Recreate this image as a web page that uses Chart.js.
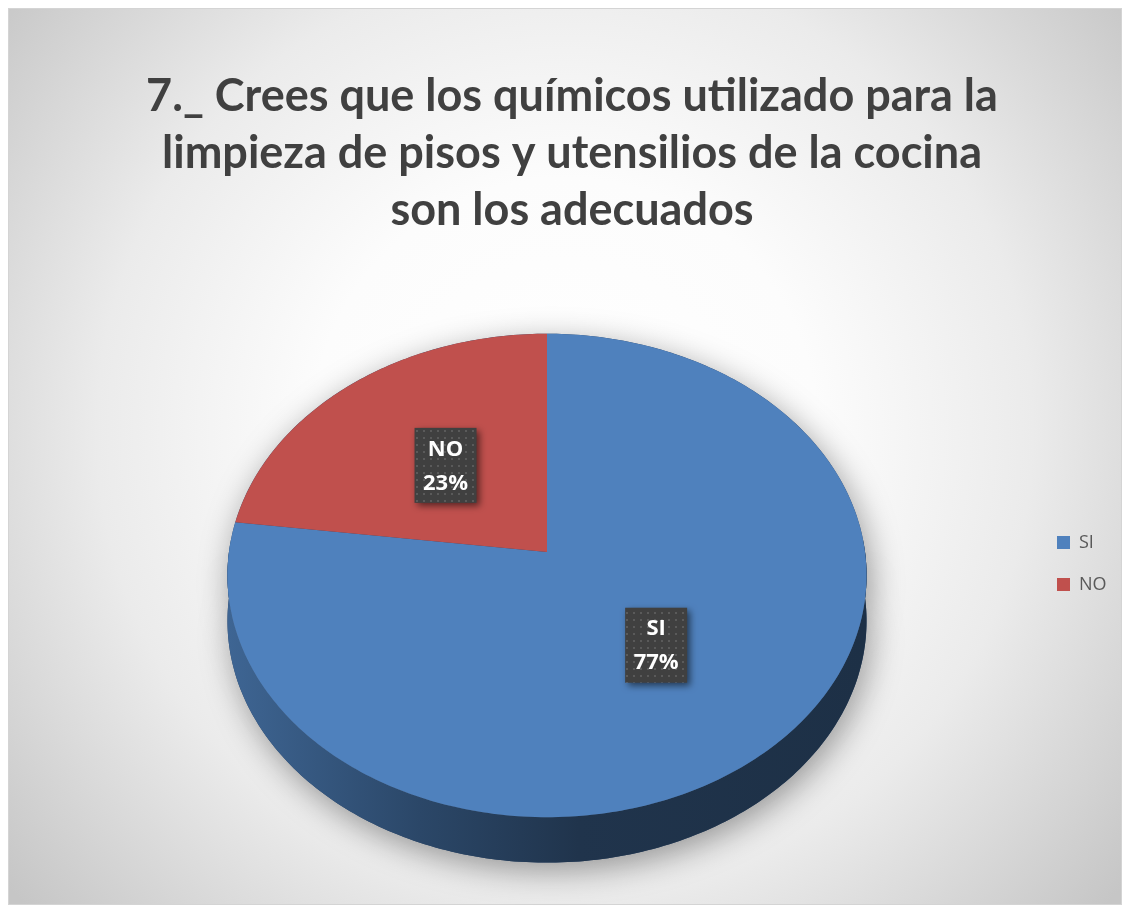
<!DOCTYPE html>
<html>
<head>
<meta charset="utf-8">
<script src="https://cdn.jsdelivr.net/npm/chart.js@4"></script>
<style>
  html, body { margin: 0; padding: 0; background: #fff; }
  #wrap { width: 1124px; height: 909px; }
</style>
</head>
<body>
<div id="wrap"><canvas id="pieChart" width="1124" height="909"></canvas></div>
<script>
// chart data
const categories = ['SI', 'NO'];
const values = [77, 23];
const sliceColors = ['#4F81BD', '#C0504D'];
const titleLines = [
    '7._ Crees que los químicos utilizado para la',
    'limpieza de pisos y utensilios de la cocina',
    'son los adecuados'
];

// darken / lighten a hex colour
function shade(hex, f) {
    const n = parseInt(hex.slice(1), 16);
    const r = Math.round(((n >> 16) & 255) * f);
    const g = Math.round(((n >> 8) & 255) * f);
    const b = Math.round((n & 255) * f);
    return `rgb(${Math.min(255, r)},${Math.min(255, g)},${Math.min(255, b)})`;
}

// tilted-disc projection of a point at angle a, fraction f of the radius
function project(geo, a, f) {
    const u = Math.cos(a) * f, v = Math.sin(a) * f;
    const d = 1 - geo.k * v;
    return [geo.cx + geo.rx * u / d, geo.cy + geo.ry * v / d];
}

function tracePath(ctx, geo, a0, a1, dy) {
    const steps = Math.max(8, Math.ceil(Math.abs(a1 - a0) * 60));
    for (let i = 0; i <= steps; i++) {
        const a = a0 + (a1 - a0) * i / steps;
        const p = project(geo, a, 1);
        ctx.lineTo(p[0], p[1] + dy);
    }
}

// background with soft radial shading
const backgroundPlugin = {
    id: 'officeBackground',
    beforeDraw(chart) {
        const ctx = chart.ctx;
        ctx.save();
        ctx.fillStyle = '#ffffff';
        ctx.fillRect(0, 0, chart.width, chart.height);
        const grad = ctx.createRadialGradient(565, 430, 0, 565, 430, 720);
        grad.addColorStop(0, '#ffffff');
        grad.addColorStop(0.35, '#fcfcfc');
        grad.addColorStop(0.65, '#ebebeb');
        grad.addColorStop(1, '#c6c6c6');
        ctx.fillStyle = grad;
        ctx.fillRect(8, 8, 1114, 897);
        ctx.strokeStyle = '#d4d4d4';
        ctx.lineWidth = 1;
        ctx.strokeRect(8.5, 8.5, 1113, 896);
        ctx.restore();
    }
};

// legend keeps a narrow layout box, but its clip area is widened so text isn't cut
const legendClipPlugin = {
    id: 'legendClip',
    afterLayout(chart) {
        const lg = chart.legend;
        if (!lg) return;
        lg.width = 90;
        lg.right = lg.left + 90;
    }
};

// draws the pie as a tilted 3D disc, using the arc angles computed by Chart.js
const pie3dPlugin = {
    id: 'pie3d',
    beforeDatasetsDraw(chart) {
        const ctx = chart.ctx;
        const meta = chart.getDatasetMeta(0);
        const first = meta.data[0];
        const R = first.outerRadius;
        const geo = { cx: first.x, cy: first.y, rx: R * 1.036, ry: R * 0.78, k: 0.097 };
        const depth = R * 0.148;

        ctx.save();
        // soft shadow beneath the disc
        ctx.save();
        ctx.shadowColor = 'rgba(0,0,0,0.38)';
        ctx.shadowBlur = 32;
        ctx.shadowOffsetX = 4;
        ctx.shadowOffsetY = 8;
        ctx.beginPath();
        tracePath(ctx, geo, -Math.PI / 2, Math.PI * 1.5, 0);
        ctx.fillStyle = '#2a4466';
        ctx.fill();
        ctx.beginPath();
        tracePath(ctx, geo, 0, Math.PI, 0);
        tracePath(ctx, geo, Math.PI, 0, depth);
        ctx.fill();
        ctx.restore();

        // side walls (front half only)
        meta.data.forEach((arc, i) => {
            const a0 = Math.max(arc.startAngle, -0.05);
            const a1 = Math.min(arc.endAngle, Math.PI + 0.05);
            if (a1 <= a0) return;
            const base = sliceColors[i];
            const grad = ctx.createLinearGradient(geo.cx - geo.rx, 0, geo.cx + geo.rx, 0);
            grad.addColorStop(0, shade(base, 0.78));
            grad.addColorStop(0.3, shade(base, 0.55));
            grad.addColorStop(0.55, shade(base, 0.4));
            grad.addColorStop(1, shade(base, 0.37));
            ctx.beginPath();
            tracePath(ctx, geo, a0, a1, 0);
            tracePath(ctx, geo, a1, a0, depth);
            ctx.closePath();
            ctx.fillStyle = grad;
            ctx.fill();
        });

        // top faces
        meta.data.forEach((arc, i) => {
            ctx.beginPath();
            ctx.moveTo(geo.cx, geo.cy);
            tracePath(ctx, geo, arc.startAngle, arc.endAngle, 0);
            ctx.closePath();
            ctx.fillStyle = sliceColors[i];
            ctx.fill();
        });

        // data labels
        const dots = document.createElement('canvas');
        dots.width = 7; dots.height = 7;
        const dctx = dots.getContext('2d');
        dctx.fillStyle = '#404040';
        dctx.fillRect(0, 0, 7, 7);
        dctx.fillStyle = '#5a5a5a';
        dctx.fillRect(3, 3, 2, 2);
        const pattern = ctx.createPattern(dots, 'repeat');

        const total = values.reduce((s, v) => s + v, 0);
        meta.data.forEach((arc, i) => {
            const mid = (arc.startAngle + arc.endAngle) / 2;
            const p = project(geo, mid, 0.5);
            const w = 62, h = 75;
            ctx.save();
            ctx.shadowColor = 'rgba(0,0,0,0.55)';
            ctx.shadowBlur = 7;
            ctx.shadowOffsetX = 3;
            ctx.shadowOffsetY = 3;
            ctx.fillStyle = pattern;
            ctx.fillRect(p[0] - w / 2, p[1] - h / 2, w, h);
            ctx.restore();
            ctx.fillStyle = '#ffffff';
            ctx.font = 'bold 22px "Open Sans"';
            ctx.textAlign = 'center';
            ctx.textBaseline = 'middle';
            const pct = Math.round(values[i] / total * 100);
            ctx.fillText(categories[i], p[0], p[1] - 16);
            ctx.fillText(pct + '%', p[0], p[1] + 18);
        });
        ctx.restore();
        return false;
    }
};

const ctx = document.getElementById('pieChart');
new Chart(ctx, {
    type: 'pie',
    data: {
        labels: categories,
        datasets: [{
            data: values,
            backgroundColor: sliceColors,
            borderWidth: 0
        }]
    },
    plugins: [backgroundPlugin, legendClipPlugin, pie3dPlugin],
    options: {
        responsive: false,
        animation: false,
        events: [],
        layout: { padding: { left: 61, right: 41, top: 0, bottom: 50 } },
        plugins: {
            title: {
                display: true,
                text: titleLines,
                color: '#404040',
                font: { family: 'Lato', size: 45, weight: 'bold', lineHeight: 1.267 },
                padding: { top: 68, bottom: 6 }
            },
            legend: {
                position: 'right',
                maxWidth: 50,
                title: {
                    display: true,
                    text: ' ',
                    font: { size: 10, lineHeight: 1 },
                    padding: { top: 258, bottom: 0 }
                },
                labels: {
                    color: '#595959',
                    font: { family: 'Open Sans', size: 18 },
                    boxWidth: 13,
                    boxHeight: 13,
                    padding: 24
                }
            },
            tooltip: { enabled: false }
        }
    }
});
</script>
</body>
</html>
